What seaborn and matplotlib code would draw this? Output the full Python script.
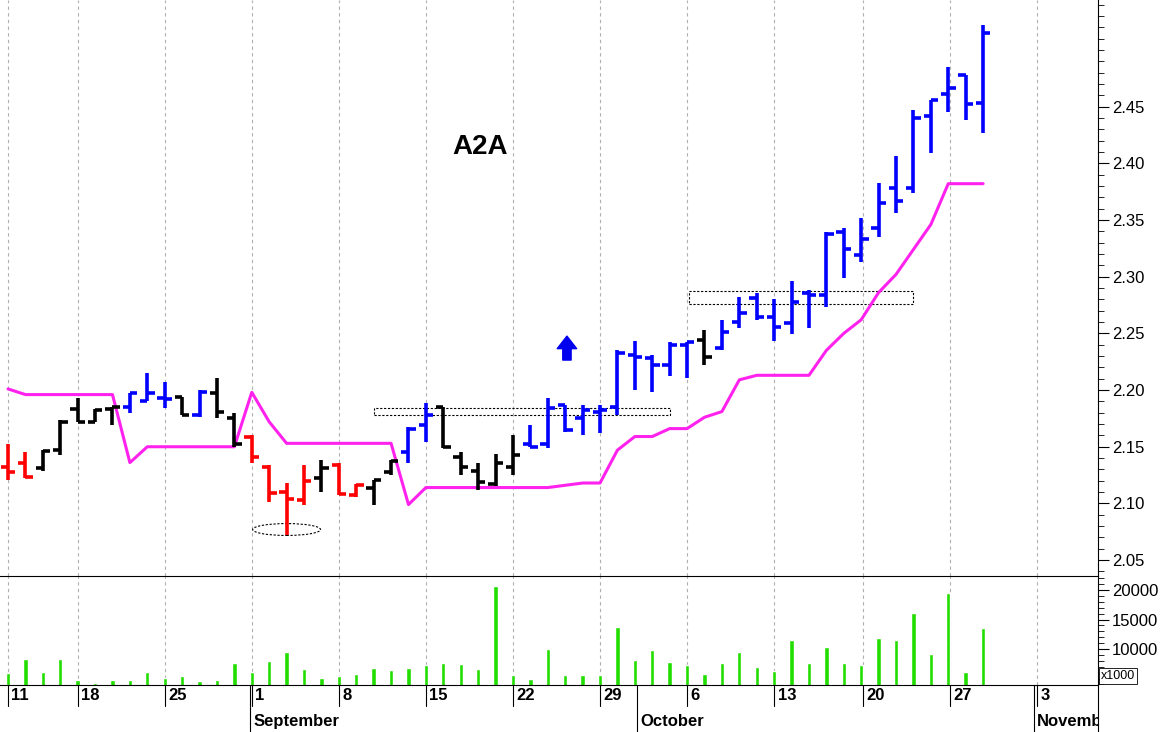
import numpy as np
import pandas as pd
import matplotlib
matplotlib.use("Agg")
import matplotlib.pyplot as plt
from matplotlib.patches import Rectangle, Ellipse
import seaborn as sns

opens  = [2.132,2.136,2.131,2.147,2.183,2.172,2.183,2.185,2.190,2.193,2.194,2.178,2.197,2.175,2.159,2.132,2.110,2.103,2.122,2.134,2.107,2.114,2.128,
          2.145,2.169,2.185,2.141,2.129,2.117,2.132,2.152,2.152,2.187,2.175,2.181,2.185,2.231,2.228,2.222,2.240,2.244,
          2.237,2.260,2.281,2.264,2.259,2.286,2.284,2.339,2.319,2.343,2.378,2.378,2.442,2.461,2.478,2.453]
highs  = [2.152,2.145,2.147,2.174,2.193,2.183,2.185,2.197,2.215,2.207,2.194,2.200,2.211,2.180,2.160,2.134,2.118,2.134,2.138,2.136,2.117,2.121,2.138,
          2.167,2.189,2.185,2.145,2.136,2.144,2.160,2.169,2.193,2.187,2.187,2.187,2.235,2.243,2.231,2.242,2.242,2.253,
          2.262,2.282,2.286,2.280,2.296,2.288,2.339,2.343,2.352,2.383,2.406,2.447,2.456,2.485,2.478,2.522]
lows   = [2.121,2.122,2.129,2.143,2.172,2.172,2.169,2.180,2.190,2.184,2.178,2.176,2.175,2.150,2.136,2.101,2.072,2.099,2.110,2.107,2.106,2.099,2.125,
          2.136,2.154,2.149,2.125,2.112,2.115,2.125,2.150,2.149,2.163,2.160,2.162,2.178,2.200,2.198,2.212,2.211,2.222,
          2.235,2.255,2.262,2.243,2.249,2.255,2.273,2.299,2.313,2.335,2.356,2.374,2.409,2.445,2.438,2.427]
closes = [2.128,2.123,2.146,2.172,2.172,2.182,2.185,2.197,2.197,2.192,2.178,2.198,2.181,2.152,2.141,2.109,2.104,2.120,2.131,2.108,2.116,2.121,2.137,
          2.166,2.178,2.150,2.132,2.119,2.136,2.143,2.150,2.184,2.165,2.182,2.182,2.233,2.229,2.222,2.240,2.242,2.229,
          2.251,2.268,2.264,2.256,2.278,2.284,2.338,2.324,2.333,2.365,2.367,2.440,2.456,2.466,2.452,2.515]
colors = (["red","red","black","black","black","black","black","blue","blue","blue","black","blue","black","black",
           "red","red","red","red","black","red","red","black","black",
           "blue","blue","black","black","black","black","black","blue","blue","blue","blue","blue","blue","blue","blue","blue","blue","black"]
          + ["blue"] * 16)
stop_line = [2.201,2.196,2.196,2.196,2.196,2.196,2.196,2.136,2.150,2.150,2.150,2.150,2.150,2.150,2.198,2.172,2.153,2.153,2.153,2.153,2.153,2.153,2.153,
             2.099,2.114,2.114,2.114,2.114,2.114,2.114,2.114,2.114,2.116,2.118,2.118,2.147,2.159,2.159,2.166,2.166,2.176,
             2.181,2.209,2.213,2.213,2.213,2.213,2.235,2.250,2.262,2.286,2.302,2.324,2.346,2.382,2.382,2.382]
volume = [5900,8360,6060,8360,4750,4260,4750,4750,6060,5080,5400,4580,4750,7700,6060,8030,9500,6550,5080,5400,5730,6720,6390,
          6720,7370,7700,7540,6550,20660,5570,4910,10000,5570,5570,5570,13770,8190,9830,7860,7370,5730,
          7700,9500,6880,6220,11470,7700,10320,7700,7370,11960,11470,16060,9180,19510,6060,13600]
day_ticks = [0, 4.02, 9.02, 14.0, 19.0, 24.0, 29.0, 34.0, 39.0, 44.0, 49.1, 54.1, 59.1]
day_labels = ["11","18","25","1","8","15","22","29","6","13","20","27","3"]
month_pos = [13.9, 36.1, 58.9]
month_labels = ["September", "October", "November"]
price_ticks = [2.05, 2.10, 2.15, 2.20, 2.25, 2.30, 2.35, 2.40, 2.45]
vol_ticks = [10000, 15000, 20000]

sns.set_style("white")
plt.rcParams['font.family'] = ['Liberation Sans', 'DejaVu Sans']
plt.rcParams['text.color'] = 'black'
plt.rcParams['xtick.color'] = 'black'
plt.rcParams['ytick.color'] = 'black'
plt.rcParams['axes.edgecolor'] = 'black'

W, H = 1168, 732
fig = plt.figure(figsize=(W/100, H/100), dpi=100)
R = 1098
ax = fig.add_axes([0, 1-576/H, R/W, 576/H])
axv = fig.add_axes([0, 1-685/H, R/W, 109/H], sharex=ax)
axd = fig.add_axes([0, 0, R/W, 47/H], sharex=ax)

df = pd.DataFrame(dict(i=np.arange(len(opens)), o=opens, h=highs, l=lows, c=closes, col=colors, stop=stop_line, vol=volume))
xlo, xhi = -0.46, 62.6
for a in (ax, axv):
    for t in day_ticks:
        a.axvline(t, color="#b0b0b0", ls=(0, (3, 3)), lw=0.8, zorder=0)

tw = 0.42
ax.vlines(df.i, df.l, df.h, colors=df.col, lw=2.6, zorder=3)
ax.hlines(df.o, df.i - tw, df.i, colors=df.col, lw=2.6, zorder=3)
ax.hlines(df.c, df.i, df.i + tw, colors=df.col, lw=2.6, zorder=3)
sns.lineplot(data=df, x="i", y="stop", ax=ax, color="#ff22ee", lw=2.2, zorder=2)

ax.add_patch(Rectangle((21.0, 2.178), 17.0, 0.006, fill=False, ls=(0, (2, 1.5)), lw=0.8, ec="black"))
ax.add_patch(Rectangle((39.1, 2.276), 12.9, 0.011, fill=False, ls=(0, (2, 1.5)), lw=0.8, ec="black"))
ax.add_patch(Ellipse((16.0, 2.077), 3.9, 0.0105, fill=False, ls=(0, (2, 1.5)), lw=0.8, ec="black"))
ax.annotate("", xy=(32.1, 2.250), xytext=(32.1, 2.224),
            arrowprops=dict(arrowstyle="simple,head_width=1.4,head_length=0.9,tail_width=0.6", color="#0000ee"))
ax.text(27.1, 2.414, "A2A", fontsize=20, fontweight="bold", ha="center", va="center")

ax.set_xlim(xlo, xhi)
ax.set_ylim(2.036, 2.544)
ax.yaxis.tick_right()
ax.set_yticks(price_ticks)
ax.set_yticklabels([f"{v:.2f}" for v in price_ticks], fontsize=12)
ax.yaxis.set_minor_locator(matplotlib.ticker.MultipleLocator(0.01))
ax.tick_params(axis="y", which="major", length=8, direction="out", pad=2)
ax.tick_params(axis="y", which="minor", length=4, direction="out")
ax.tick_params(axis="x", bottom=False, labelbottom=False)
ax.set_xlabel(""); ax.set_ylabel("")
for s in ("top", "left", "bottom"):
    ax.spines[s].set_visible(False)

sns.barplot(data=df, x="i", y="vol", native_scale=True, color="#22dd00", width=0.25, ax=axv, saturation=1, zorder=3)
axv.set_ylim(3900, 22400)
axv.yaxis.tick_right()
axv.set_yticks(vol_ticks)
axv.set_yticklabels([str(v) for v in vol_ticks], fontsize=12)
axv.yaxis.set_minor_locator(matplotlib.ticker.MultipleLocator(1000))
axv.tick_params(axis="y", which="major", length=8, direction="out", pad=2)
axv.tick_params(axis="y", which="minor", length=4, direction="out")
axv.tick_params(axis="x", bottom=False, labelbottom=False)
axv.set_xlabel(""); axv.set_ylabel("")
for s in ("left", "bottom"):
    axv.spines[s].set_visible(False)
axv.text(1.003, 0.03, "x1000", transform=axv.transAxes, fontsize=9, va="bottom", ha="left",
         bbox=dict(boxstyle="square,pad=0.15", fc="white", ec="black", lw=0.6), clip_on=False)

axd.set_ylim(0, 1)
axd.set_yticks([])
for t, lab in zip(day_ticks, day_labels):
    axd.plot([t, t], [1, 0.55], color="black", lw=0.8)
    axd.text(t + 0.2, 0.77, lab, fontsize=12, fontweight="bold", ha="left", va="center")
for t, lab in zip(month_pos, month_labels):
    axd.plot([t, t], [1, 0], color="black", lw=0.8)
    axd.text(t + 0.2, 0.22, lab, fontsize=12, fontweight="bold", ha="left", va="center", clip_on=True)
axd.tick_params(axis="x", bottom=False, labelbottom=False)
for s in ("left", "bottom"):
    axd.spines[s].set_visible(False)

fig.savefig("out.png", dpi=100)
